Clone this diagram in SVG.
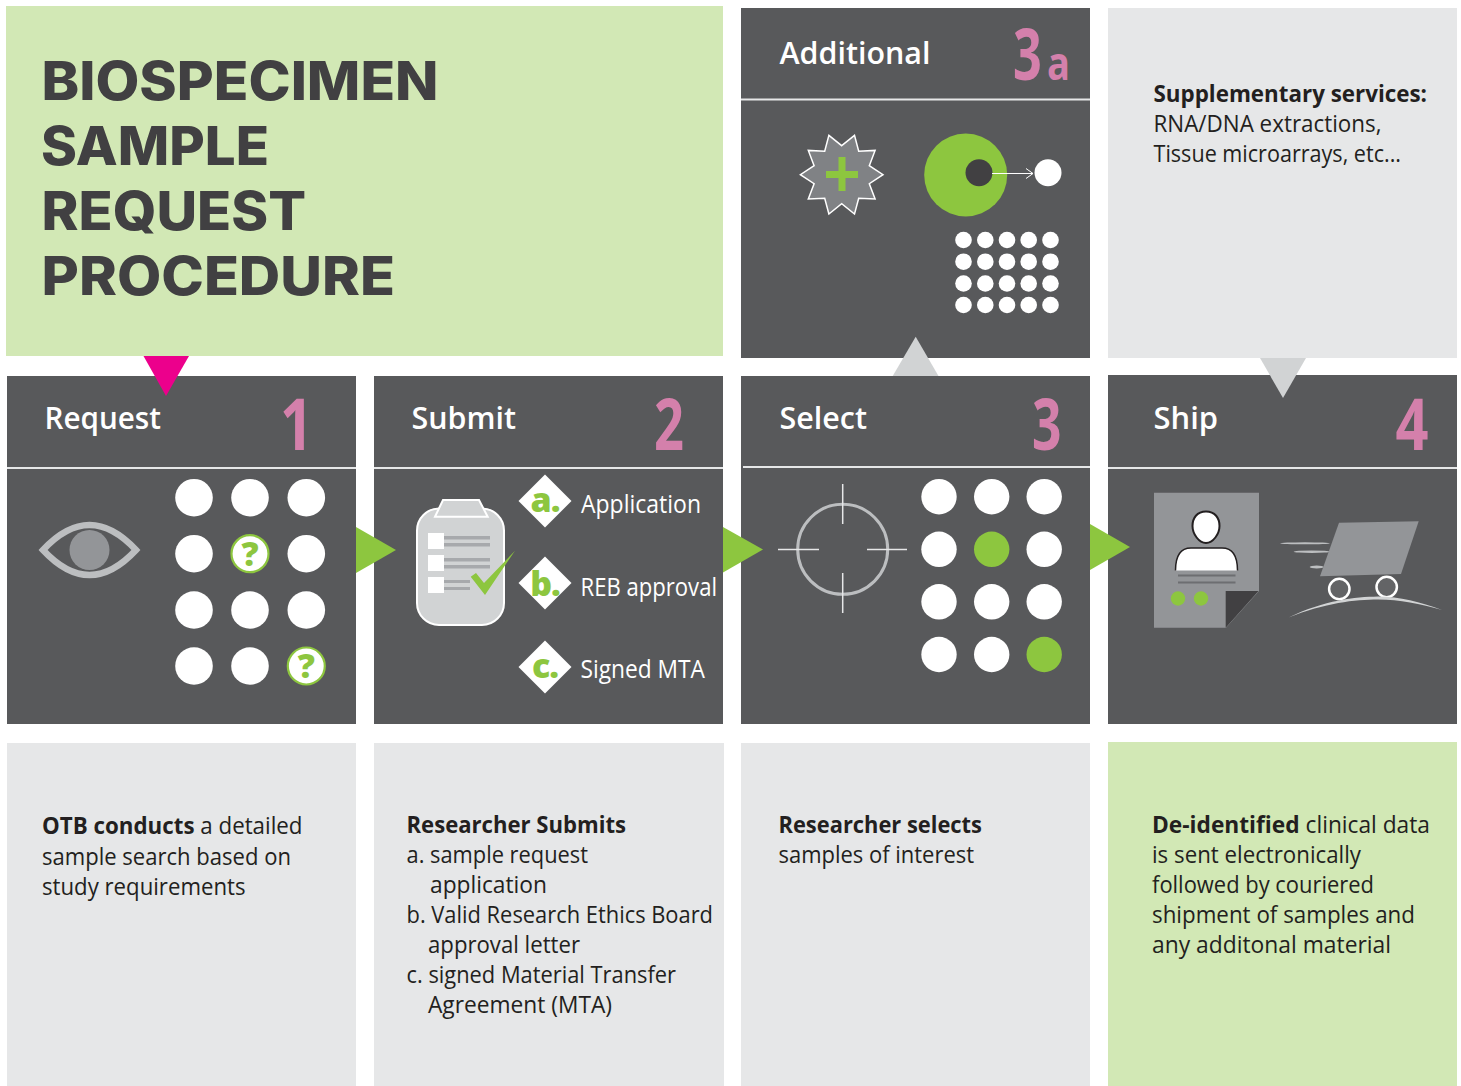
<svg xmlns="http://www.w3.org/2000/svg" width="1461" height="1086" viewBox="0 0 1461 1086">
<style>
.dark{fill:#58595b}.grey{fill:#e6e7e8}.lg{fill:#d2e8b5}.g{fill:#8dc63f}.w{fill:#fff}
.rule{stroke:#e6e7e8;stroke-width:2;fill:none}
.title{font:800 53px "Inter","Open Sans",sans-serif;fill:#414042}
.h{font:600 31px "Open Sans",sans-serif;fill:#fff}
.n{font:700 71px "Open Sans",sans-serif;fill:#d480ab}
.b{font:400 24px "Open Sans",sans-serif;fill:#231f20}
.bb{font-weight:700}
.l{font:400 25px "Open Sans",sans-serif;fill:#fff}
.d{font:800 34px "Open Sans",sans-serif;fill:#8dc63f;text-anchor:middle;letter-spacing:-1px}
.q{font:800 34px "Open Sans",sans-serif;fill:#8dc63f;text-anchor:middle}
</style>
<defs>
<circle id="qd" r="18.500" fill="#fff" stroke="#8dc63f" stroke-width="2.200"/>
</defs>
<g id="title-panel">
<rect class="lg" x="6" y="6" width="717" height="350"/>
<text class="title" x="41.500" y="100" textLength="397" lengthAdjust="spacingAndGlyphs">BIOSPECIMEN</text>
<text class="title" x="41" y="165" textLength="228" lengthAdjust="spacingAndGlyphs">SAMPLE</text>
<text class="title" x="41.500" y="230" textLength="264.500" lengthAdjust="spacingAndGlyphs">REQUEST</text>
<text class="title" x="41.500" y="295" textLength="353.500" lengthAdjust="spacingAndGlyphs">PROCEDURE</text>
</g>
<g id="additional">
<rect class="dark" x="741" y="8" width="349" height="350"/>
<line class="rule" x1="741" y1="99.500" x2="1090" y2="99.500"/>
<text class="h" x="779.500" y="63.500" textLength="151" lengthAdjust="spacingAndGlyphs">Additional</text>
<text class="n" transform="translate(1013 80) scale(.71 1)">3</text>
<text class="n" style="font-size:46px" x="1047" y="80" textLength="23" lengthAdjust="spacingAndGlyphs">a</text>
<polygon points="841.700,145.700 854.500,135.400 858.700,151.200 875.100,150.400 869.300,165.700 883,174.700 869.300,183.700 875.100,199 858.700,198.200 854.500,214 841.700,203.700 828.900,214 824.700,198.200 808.300,199 814.100,183.700 800.400,174.700 814.100,165.700 808.300,150.400 824.700,151.200 828.900,135.400" fill="#808285" stroke="#fff" stroke-width="1.500"/>
<path class="g" d="M838.500,157h7v14h12.500v7h-12.500v13h-7v-13h-12.500v-7h12.500z"/>
<circle class="g" cx="965.700" cy="175" r="41.500"/>
<circle cx="979" cy="172.700" r="13.500" fill="#414042"/>
<path d="M992,173.500H1033M1026,168.500l7,5l-7,5" fill="none" stroke="#fff" stroke-width="1"/>
<circle class="w" cx="1048" cy="172.700" r="13.500"/>
<g class="w">
<circle cx="963.500" cy="240" r="8.300"/><circle cx="985.300" cy="240" r="8.300"/><circle cx="1007" cy="240" r="8.300"/><circle cx="1028.700" cy="240" r="8.300"/><circle cx="1050.500" cy="240" r="8.300"/>
<circle cx="963.500" cy="261.700" r="8.300"/><circle cx="985.300" cy="261.700" r="8.300"/><circle cx="1007" cy="261.700" r="8.300"/><circle cx="1028.700" cy="261.700" r="8.300"/><circle cx="1050.500" cy="261.700" r="8.300"/>
<circle cx="963.500" cy="283.500" r="8.300"/><circle cx="985.300" cy="283.500" r="8.300"/><circle cx="1007" cy="283.500" r="8.300"/><circle cx="1028.700" cy="283.500" r="8.300"/><circle cx="1050.500" cy="283.500" r="8.300"/>
<circle cx="963.500" cy="305" r="8.300"/><circle cx="985.300" cy="305" r="8.300"/><circle cx="1007" cy="305" r="8.300"/><circle cx="1028.700" cy="305" r="8.300"/><circle cx="1050.500" cy="305" r="8.300"/>
</g>
</g>
<g id="supplementary">
<rect class="grey" x="1108" y="8" width="349" height="350"/>
<text class="b bb" x="1153.500" y="102" textLength="273.500" lengthAdjust="spacingAndGlyphs">Supplementary services:</text>
<text class="b" x="1153.500" y="132" textLength="228" lengthAdjust="spacingAndGlyphs">RNA/DNA extractions,</text>
<text class="b" x="1153.500" y="162" textLength="247.500" lengthAdjust="spacingAndGlyphs">Tissue microarrays, etc...</text>
</g>
<g id="request">
<rect class="dark" x="7" y="376" width="349" height="348"/>
<line class="rule" x1="7" y1="468" x2="356" y2="468"/>
<text class="h" x="44.500" y="429" textLength="116.500" lengthAdjust="spacingAndGlyphs">Request</text>
<text class="n" x="280" y="450" textLength="33" lengthAdjust="spacingAndGlyphs">1</text>
<circle cx="89.500" cy="550" r="20" fill="#939598"/>
<path d="M43,550Q89.500,500 136,550Q89.500,600 43,550Z" fill="none" stroke="#bcbec0" stroke-width="6.500"/>
<g class="w">
<circle cx="194" cy="497.700" r="18.800"/><circle cx="250" cy="497.700" r="18.800"/><circle cx="306.300" cy="497.700" r="18.800"/>
<circle cx="194" cy="553.700" r="18.800"/><circle cx="306.300" cy="553.700" r="18.800"/>
<circle cx="194" cy="610" r="18.800"/><circle cx="250" cy="610" r="18.800"/><circle cx="306.300" cy="610" r="18.800"/>
<circle cx="194" cy="666" r="18.800"/><circle cx="250" cy="666" r="18.800"/>
</g>
<use href="#qd" x="250" y="553.700"/><text class="q" x="250" y="566">?</text>
<use href="#qd" x="306.300" y="666"/><text class="q" x="306.300" y="678">?</text>
</g>
<g id="submit">
<rect class="dark" x="374" y="376" width="349" height="348"/>
<line class="rule" x1="374" y1="468" x2="723" y2="468"/>
<text class="h" x="411.500" y="429" textLength="104.500" lengthAdjust="spacingAndGlyphs">Submit</text>
<text class="n" x="654" y="450" textLength="30" lengthAdjust="spacingAndGlyphs">2</text>
<rect x="417" y="508.500" width="87" height="116.500" rx="22" fill="#d1d3d4" stroke="#fff" stroke-width="2"/>
<polygon points="435,516.700 443,500 479,500 487.700,516.700" fill="#d1d3d4" stroke="#fff" stroke-width="2"/>
<g class="w"><rect x="428" y="533" width="16" height="16"/><rect x="428" y="555" width="16" height="16"/><rect x="428" y="577" width="16" height="16"/></g>
<g fill="#a7a9ac"><rect x="444" y="536" width="46" height="3.500"/><rect x="444" y="543" width="46" height="3.500"/><rect x="444" y="558" width="46" height="3.500"/><rect x="444" y="565" width="46" height="3.500"/><rect x="444" y="580" width="26" height="3"/><rect x="444" y="587" width="26" height="3"/></g>
<polygon class="g" points="470.700,576.700 485,595 515,550.700 484,583 476,573"/>
<polygon class="w" points="545,474.500 571.500,501 545,527.500 518.500,501"/>
<polygon class="w" points="545,556.500 571.500,583 545,609.500 518.500,583"/>
<polygon class="w" points="545,640.500 571.500,667 545,693.500 518.500,667"/>
<text class="d" x="545" y="511.500">a.</text>
<text class="d" x="545" y="596">b.</text>
<text class="d" x="545" y="677.500">c.</text>
<text class="l" x="581" y="513" textLength="120" lengthAdjust="spacingAndGlyphs">Application</text>
<text class="l" x="580.500" y="596" textLength="136.500" lengthAdjust="spacingAndGlyphs">REB approval</text>
<text class="l" x="580.500" y="678" textLength="124.500" lengthAdjust="spacingAndGlyphs">Signed MTA</text>
</g>
<g id="select">
<rect class="dark" x="741" y="376" width="349" height="348"/>
<line class="rule" x1="743" y1="467" x2="1090" y2="467"/>
<text class="h" x="779.500" y="429" textLength="87.500" lengthAdjust="spacingAndGlyphs">Select</text>
<text class="n" x="1032" y="450" textLength="29.500" lengthAdjust="spacingAndGlyphs">3</text>
<circle cx="842.700" cy="549.300" r="45" fill="none" stroke="#bcbec0" stroke-width="3"/>
<path d="M842.700,484V524M842.700,573V613M778,549.500H819M867,549.500H907" stroke="#e6e7e8" stroke-width="1.500" fill="none"/>
<g class="w">
<circle cx="939" cy="496.700" r="17.700"/><circle cx="991.700" cy="496.700" r="17.700"/><circle cx="1044.200" cy="496.700" r="17.700"/>
<circle cx="939" cy="549.300" r="17.700"/><circle cx="1044.200" cy="549.300" r="17.700"/>
<circle cx="939" cy="601.800" r="17.700"/><circle cx="991.700" cy="601.800" r="17.700"/><circle cx="1044.200" cy="601.800" r="17.700"/>
<circle cx="939" cy="654.500" r="17.700"/><circle cx="991.700" cy="654.500" r="17.700"/>
</g>
<circle class="g" cx="991.700" cy="549.300" r="17.700"/><circle class="g" cx="1044.200" cy="654.500" r="17.700"/>
</g>
<g id="ship">
<rect class="dark" x="1108" y="375" width="349" height="349"/>
<line class="rule" x1="1108" y1="468" x2="1457" y2="468"/>
<text class="h" x="1153.500" y="429" textLength="64.500" lengthAdjust="spacingAndGlyphs">Ship</text>
<text class="n" x="1395.500" y="450" textLength="33" lengthAdjust="spacingAndGlyphs">4</text>
<polygon points="1154,492.700 1259,492.700 1259,591 1226,627.700 1154,627.700" fill="#939598"/>
<polygon points="1225.700,591 1258.500,591 1225.700,627.700" fill="#414042"/>
<path d="M1206,511.500C1197,511.500 1192.500,518 1192.500,526C1192.500,534 1199,543 1206,543C1213,543 1219.500,534 1219.500,526C1219.500,518 1215,511.500 1206,511.500Z" fill="#fff" stroke="#231f20" stroke-width="2"/>
<path d="M1175.500,570.500C1175.500,556 1181,548 1191,548H1222C1232,548 1237.500,556 1237.500,570.500Z" fill="#fff"/>
<path d="M1175.500,570.500C1175.500,556 1181,548 1191,548H1222C1232,548 1237.500,556 1237.500,570.500" fill="none" stroke="#231f20" stroke-width="1.500"/>
<path d="M1178,575.500H1235.500M1178,582.500H1235.500" stroke="#6d6e71" stroke-width="1.800" fill="none"/>
<circle class="g" cx="1178" cy="598.500" r="7.200"/><circle class="g" cx="1201" cy="598.500" r="7.200"/>
<g fill="#bcbec0"><ellipse cx="1305" cy="543.300" rx="25" ry="1"/><ellipse cx="1311.700" cy="551.700" rx="18" ry="1.200"/><ellipse cx="1316.700" cy="567" rx="7" ry="1.500"/></g>
<polygon points="1339,522.700 1418.700,521.300 1401,574 1320,576.300" fill="#939598"/>
<circle cx="1339.300" cy="589" r="10.200" fill="#636466" stroke="#fff" stroke-width="2.500"/>
<circle cx="1386.700" cy="587" r="10.200" fill="#636466" stroke="#fff" stroke-width="2.500"/>
<path d="M1288.500,617.500C1325,600 1355,597 1378,596.500C1400,596.500 1420,602 1442,610C1420,604 1400,599.500 1378,599.500C1355,599.500 1325,603 1288.500,617.500Z" fill="#d1d3d4"/>
</g>
<g id="connectors">
<polygon points="143.500,356 189,356 166,396" fill="#ec008c"/>
<polygon class="g" points="356,527 396,550 356,573"/>
<polygon class="g" points="723,527 763,549.500 723,572.500"/>
<polygon class="g" points="1090,524 1130,547 1090,570"/>
<polygon points="892.700,376 915.700,336.700 938.500,376" fill="#d1d3d4"/>
<polygon points="1260,358 1306,358 1283,398" fill="#d1d3d4"/>
</g>
<g id="desc-1">
<rect class="grey" x="7" y="743" width="349" height="343"/>
<text class="b" x="42" y="834" textLength="260.500" lengthAdjust="spacingAndGlyphs"><tspan class="bb">OTB conducts</tspan> a detailed</text>
<text class="b" x="42" y="865" textLength="249" lengthAdjust="spacingAndGlyphs">sample search based on</text>
<text class="b" x="42" y="895" textLength="203.500" lengthAdjust="spacingAndGlyphs">study requirements</text>
</g>
<g id="desc-2">
<rect class="grey" x="374" y="743" width="350" height="343"/>
<text class="b bb" x="406.500" y="833" textLength="219.500" lengthAdjust="spacingAndGlyphs">Researcher Submits</text>
<text class="b" x="406.500" y="863" textLength="181.500" lengthAdjust="spacingAndGlyphs">a. sample request</text>
<text class="b" x="430" y="893" textLength="117" lengthAdjust="spacingAndGlyphs">application</text>
<text class="b" x="406.500" y="923" textLength="306.500" lengthAdjust="spacingAndGlyphs">b. Valid Research Ethics Board</text>
<text class="b" x="428" y="953" textLength="152" lengthAdjust="spacingAndGlyphs">approval letter</text>
<text class="b" x="406.500" y="983" textLength="269.500" lengthAdjust="spacingAndGlyphs">c. signed Material Transfer</text>
<text class="b" x="428" y="1013" textLength="184" lengthAdjust="spacingAndGlyphs">Agreement (MTA)</text>
</g>
<g id="desc-3">
<rect class="grey" x="741" y="743" width="349" height="343"/>
<text class="b bb" x="778.500" y="833" textLength="203.500" lengthAdjust="spacingAndGlyphs">Researcher selects</text>
<text class="b" x="778.500" y="863" textLength="195.500" lengthAdjust="spacingAndGlyphs">samples of interest</text>
</g>
<g id="desc-4">
<rect class="lg" x="1108" y="742" width="349" height="344"/>
<text class="b" x="1152" y="833" textLength="278" lengthAdjust="spacingAndGlyphs"><tspan class="bb">De-identified</tspan> clinical data</text>
<text class="b" x="1152" y="863" textLength="209" lengthAdjust="spacingAndGlyphs">is sent electronically</text>
<text class="b" x="1152" y="893" textLength="222" lengthAdjust="spacingAndGlyphs">followed by couriered</text>
<text class="b" x="1152" y="923" textLength="263" lengthAdjust="spacingAndGlyphs">shipment of samples and</text>
<text class="b" x="1152" y="953" textLength="239" lengthAdjust="spacingAndGlyphs">any additonal material</text>
</g>
</svg>
